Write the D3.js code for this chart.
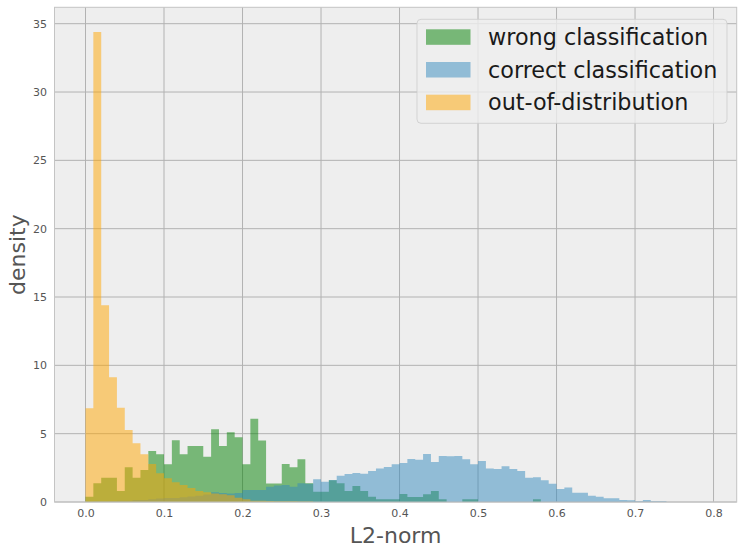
<!DOCTYPE html>
<html>
<head>
<meta charset="utf-8">
<script src="https://cdn.jsdelivr.net/npm/d3@7"></script>
<style>
  html, body { margin: 0; padding: 0; background: #ffffff; }
  svg { display: block; font-family: "DejaVu Sans", sans-serif; }
</style>
</head>
<body>
<svg id="chart" width="747" height="554"></svg>
<script>
// ---- data (density per bin, bins of width 0.01 starting at 0) ----
const binWidth = 0.01;
const seriesNames = ["wrong classification", "correct classification", "out-of-distribution"];
const wrongDensity = [
  0.39, 1.37, 1.78, 1.78, 0.8, 2.54, 1.78, 2.34, 3.73, 3.5,
  2.76, 4.52, 3.5, 4.1, 4.1, 3.32, 5.32, 4.1, 5.1, 4.74,
  2.76, 6.1, 4.5, 1.35, 1.35, 2.78, 2.54, 3.12, 1.37, 0.75,
  0.75, 1.6, 1.37, 0.8, 1.17, 0.8, 0.39, 0.2, 0.2, 0.2,
  0.59, 0.37, 0.37, 0.56, 0.8, 0.2, 0, 0, 0.2, 0.2,
  0, 0, 0, 0, 0, 0, 0, 0.2
];
const correctDensity = [
  0.02, 0.05, 0.05, 0.08, 0.1, 0.1, 0.15, 0.15, 0.2, 0.25,
  0.3, 0.3, 0.35, 0.4, 0.45, 0.55, 0.71, 0.65, 0.63, 0.65,
  0.88, 0.88, 0.88, 1.12, 1.2, 1.24, 1.12, 1.37, 1.33, 1.66,
  1.49, 1.61, 1.93, 2.04, 2.13, 2.07, 2.26, 2.46, 2.57, 2.76,
  2.85, 3.15, 3.1, 3.51, 2.93, 3.37, 3.34, 3.37, 3.12, 2.76,
  3.0, 2.46, 2.42, 2.61, 2.42, 2.27, 1.77, 1.82, 1.6, 1.34,
  0.95, 1.07, 0.68, 0.68, 0.46, 0.39, 0.27, 0.27, 0.15, 0.12,
  0.05, 0.15, 0.05, 0.05
];
const oodDensity = [
  6.86, 34.4, 14.4, 9.13, 6.9, 5.27, 4.3, 3.5, 2.78, 2.1,
  1.73, 1.44, 1.24, 1.02, 0.8, 0.71, 0.62, 0.56, 0.5, 0.32,
  0.2, 0.1, 0.1, 0.08, 0.06, 0.05, 0.05, 0.04, 0.03
];
const xTicks = [0, 0.1, 0.2, 0.3, 0.4, 0.5, 0.6, 0.7, 0.8];
const yTicks = [0, 5, 10, 15, 20, 25, 30, 35];
const xDomain = [-0.0395, 0.8295];
const yDomain = [0, 36.2];

// ---- layout ----
const svg = d3.select("#chart");
const plot = { left: 54.5, right: 736.7, top: 7.3, bottom: 502 };
const x = d3.scaleLinear().domain(xDomain).range([plot.left, plot.right]);
const y = d3.scaleLinear().domain(yDomain).range([plot.bottom, plot.top]);

const colors = ["#008000", "#348ABD", "#FFA500"];
const allSeries = [wrongDensity, correctDensity, oodDensity];

// background
svg.append("rect")
  .attr("x", plot.left).attr("y", plot.top)
  .attr("width", plot.right - plot.left).attr("height", plot.bottom - plot.top)
  .attr("fill", "#eeeeee");

// grid
const grid = svg.append("g").attr("stroke", "#b2b2b2").attr("stroke-width", 1);
grid.selectAll("line.vx").data(xTicks).enter().append("line")
  .attr("x1", d => x(d)).attr("x2", d => x(d))
  .attr("y1", plot.top).attr("y2", plot.bottom);
grid.selectAll("line.hy").data(yTicks).enter().append("line")
  .attr("x1", plot.left).attr("x2", plot.right)
  .attr("y1", d => y(d)).attr("y2", d => y(d));

// bars: each histogram drawn as one stepped area (no seams between bins)
const area = d3.area()
  .x(d => x(d.x0))
  .y0(y(0))
  .y1(d => y(d.v))
  .curve(d3.curveStepAfter);
allSeries.forEach((vals, si) => {
  const pts = vals.map((v, i) => ({ x0: i * binWidth, v }));
  pts.push({ x0: vals.length * binWidth, v: vals[vals.length - 1] });
  svg.append("path")
    .datum(pts)
    .attr("d", area)
    .attr("fill", colors[si]).attr("fill-opacity", 0.5)
    .attr("stroke", "none");
});

// frame
svg.append("rect")
  .attr("x", plot.left).attr("y", plot.top)
  .attr("width", plot.right - plot.left).attr("height", plot.bottom - plot.top)
  .attr("fill", "none").attr("stroke", "#c4c4c4").attr("stroke-width", 1);

// axes (labels only, no tick marks)
const xAxis = d3.axisBottom(x).tickValues(xTicks).tickFormat(d3.format(".1f")).tickSize(0).tickPadding(7);
const gx = svg.append("g").attr("transform", `translate(0,${plot.bottom})`).call(xAxis);
gx.select(".domain").remove();
gx.selectAll("text").attr("font-size", 11).attr("fill", "#555555").attr("font-family", "DejaVu Sans");

const yAxis = d3.axisLeft(y).tickValues(yTicks).tickFormat(d3.format("d")).tickSize(0).tickPadding(7.5);
const gy = svg.append("g").attr("transform", `translate(${plot.left},0)`).call(yAxis);
gy.select(".domain").remove();
gy.selectAll("text").attr("font-size", 11).attr("fill", "#555555").attr("font-family", "DejaVu Sans");

// axis titles
svg.append("text")
  .attr("x", (plot.left + plot.right) / 2).attr("y", 543)
  .attr("text-anchor", "middle").attr("font-size", 22).attr("fill", "#555555")
  .text("L2-norm");
svg.append("text")
  .attr("transform", `translate(24.5,${(plot.top + plot.bottom) / 2}) rotate(-90)`)
  .attr("text-anchor", "middle").attr("font-size", 22).attr("fill", "#555555")
  .text("density");

// legend
const lg = svg.append("g");
lg.append("rect")
  .attr("x", 417).attr("y", 19.3).attr("width", 310).attr("height", 104)
  .attr("rx", 4).attr("ry", 4)
  .attr("fill", "#eeeeee").attr("fill-opacity", 0.8)
  .attr("stroke", "#cccccc").attr("stroke-opacity", 0.8).attr("stroke-width", 1);
seriesNames.forEach((name, i) => {
  const rowY = 29.3 + i * 32.7;
  lg.append("rect")
    .attr("x", 426).attr("y", rowY).attr("width", 44.5).attr("height", 15.5)
    .attr("fill", colors[i]).attr("fill-opacity", 0.5);
  lg.append("text")
    .attr("x", 488).attr("y", rowY + 15.6)
    .attr("font-size", 22.3).attr("fill", "#1a1a1a")
    .text(name);
});
</script>
</body>
</html>
